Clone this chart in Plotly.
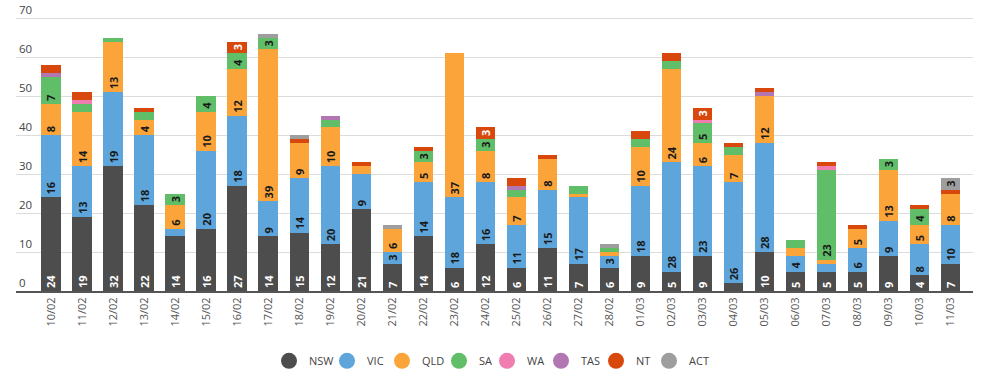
import plotly.graph_objects as go

dates = ["10/02", "11/02", "12/02", "13/02", "14/02", "15/02", "16/02", "17/02", "18/02", "19/02",
         "20/02", "21/02", "22/02", "23/02", "24/02", "25/02", "26/02", "27/02", "28/02", "01/03",
         "02/03", "03/03", "04/03", "05/03", "06/03", "07/03", "08/03", "09/03", "10/03", "11/03"]

NSW = [24, 19, 32, 22, 14, 16, 27, 14, 15, 12, 21, 7, 14, 6, 12, 6, 11, 7, 6, 9, 5, 9, 2, 10, 5, 5, 5, 9, 4, 7]
VIC = [16, 13, 19, 18, 2, 20, 18, 9, 14, 20, 9, 3, 14, 18, 16, 11, 15, 17, 3, 18, 28, 23, 26, 28, 4, 2, 6, 9, 8, 10]
QLD = [8, 14, 13, 4, 6, 10, 12, 39, 9, 10, 2, 6, 5, 37, 8, 7, 8, 1, 1, 10, 24, 6, 7, 12, 2, 1, 5, 13, 5, 8]
SA  = [7, 2, 1, 2, 3, 4, 4, 3, 0, 2, 0, 0, 3, 0, 3, 2, 0, 2, 1, 2, 2, 5, 2, 0, 2, 23, 0, 3, 4, 0]
WA  = [0, 1, 0, 0, 0, 0, 0, 0, 0, 0, 0, 0, 0, 0, 0, 0, 0, 0, 0, 0, 0, 1, 0, 0, 0, 1, 0, 0, 0, 0]
TAS = [1, 0, 0, 0, 0, 0, 0, 0, 0, 1, 0, 0, 0, 0, 0, 1, 0, 0, 0, 0, 0, 0, 0, 1, 0, 0, 0, 0, 0, 0]
NT  = [2, 2, 0, 1, 0, 0, 3, 0, 1, 0, 1, 0, 1, 0, 3, 2, 1, 0, 0, 2, 2, 3, 1, 1, 0, 1, 1, 0, 1, 1]
ACT = [0, 0, 0, 0, 0, 0, 0, 1, 1, 0, 0, 1, 0, 0, 0, 0, 0, 0, 1, 0, 0, 0, 0, 0, 0, 0, 0, 0, 0, 3]

series = [
    ("NSW", NSW, "#4d4d4d", "#ffffff"),
    ("VIC", VIC, "#5da5da", "#1a1a1a"),
    ("QLD", QLD, "#faa43a", "#1a1a1a"),
    ("SA", SA, "#60bd68", "#1a1a1a"),
    ("WA", WA, "#f17cb0", "#1a1a1a"),
    ("TAS", TAS, "#b276b2", "#1a1a1a"),
    ("NT", NT, "#d8480c", "#ffffff"),
    ("ACT", ACT, "#9e9e9e", "#1a1a1a"),
]
legend_widths = [13, 10, 12, 3, 9, 10, 8, 30]

FONT = "Open Sans"
fig = go.Figure()
for name, vals, col, tcol in series:
    fig.add_trace(go.Bar(
        x=dates, y=vals, name=name, marker=dict(color=col, line=dict(width=0)),
        text=[str(v) if v >= 3 else "" for v in vals],
        textposition="inside", insidetextanchor="start", textangle=-90,
        textfont=dict(family=FONT, size=11, color=tcol, weight="bold"),
        showlegend=False, hoverinfo="x+y+name",
    ))
for (name, vals, col, tcol), lw in zip(series, legend_widths):
    fig.add_trace(go.Scatter(
        x=[None], y=[None], mode="markers", name=name,
        marker=dict(color=col, size=16, symbol="circle"), showlegend=True,
        legendwidth=lw,
    ))

fig.update_layout(
    width=987, height=377,
    barmode="stack", bargap=0.377,
    margin=dict(l=16, r=14, t=0, b=86),
    plot_bgcolor="white", paper_bgcolor="white",
    font=dict(family=FONT, size=12, color="#444"),
    uniformtext=dict(minsize=11, mode="show"),
    xaxis=dict(
        type="category", range=[-1.128, 29.72], tickangle=-90,
        tickfont=dict(family=FONT, size=11, color="#555"),
        showline=True, linecolor="#555", linewidth=2, showgrid=False,
        ticks="", fixedrange=True, automargin=False,
    ),
    yaxis=dict(
        range=[0, 74.69], tickvals=[0, 10, 20, 30, 40, 50, 60, 70], showgrid=True,
        gridcolor="#dcdcdc", gridwidth=1,
        ticklabelposition="inside top", ticks="", ticklen=0, zeroline=False,
        tickfont=dict(family=FONT, size=11.5, color="#444"), fixedrange=True,
        automargin=False,
    ),
    legend=dict(
        orientation="h", xref="container", x=269 / 987, xanchor="left",
        y=0.043, yanchor="middle",
        yref="container", font=dict(family=FONT, size=11, color="#444"),
        itemsizing="trace", traceorder="normal",
        entrywidthmode="pixels",
    ),
)

fig.write_html("out.html", config={"displayModeBar": False},
               post_script="document.body.style.margin='0';document.body.style.padding='0';")
